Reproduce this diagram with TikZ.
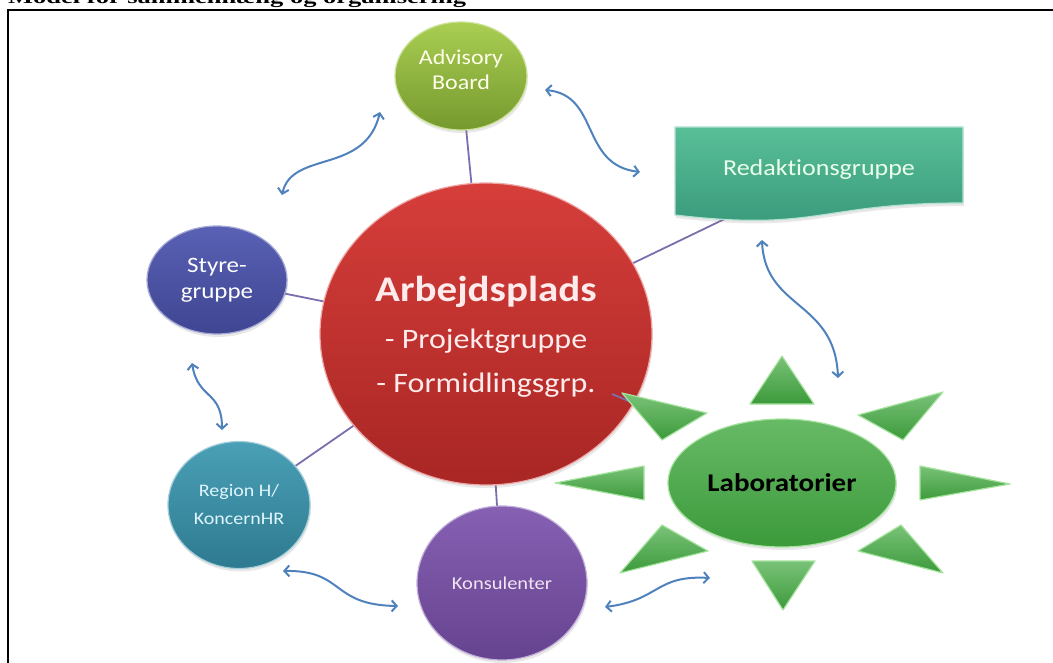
\documentclass[tikz,border=0pt]{standalone}
\usepackage{fontspec}
\setmainfont{Carlito}[Ligatures=NoCommon]
\newfontfamily\titlefont{Liberation Serif}
\usepackage{graphicx}
\usetikzlibrary{shapes.geometric,shadows,arrows.meta}

\definecolor{linkc}{HTML}{7E6DAE}
\definecolor{arrowc}{HTML}{4F81BD}
\definecolor{advtop}{HTML}{A9CE52}
\definecolor{advbot}{HTML}{76992E}
\definecolor{arbtop}{HTML}{D63E3A}
\definecolor{arbbot}{HTML}{A82624}
\definecolor{stytop}{HTML}{5961B5}
\definecolor{stybot}{HTML}{3F4591}
\definecolor{regtop}{HTML}{4AA0B6}
\definecolor{regbot}{HTML}{2E7A90}
\definecolor{kontop}{HTML}{8660B3}
\definecolor{konbot}{HTML}{66438F}
\definecolor{redtop}{HTML}{58BF98}
\definecolor{redbot}{HTML}{38977A}
\definecolor{labgreen}{HTML}{4DAE4B}
\definecolor{labdark}{HTML}{3C9A3B}
\definecolor{labrim}{HTML}{A6E39E}

% squeeze text slightly in height
\newcommand\sq[1]{\scalebox{1}[0.88]{#1}}
% centred block of lines; extra height #1 pushes the block down by half of it
\newcommand\lines[2]{\raisebox{0pt}[\dimexpr\height+#1\relax][\depth]{\begin{tabular}{@{}c@{}}#2\end{tabular}}}

\begin{document}
\begin{tikzpicture}[x=1pt,y=-1pt,
  bubble/.style={ellipse, inner sep=0pt, align=center, line width=1.2pt,
    drop shadow={opacity=0.18, shadow xshift=1pt, shadow yshift=-3pt}},
  link/.style={draw=linkc, line width=1.8pt},
  swap/.style={draw=arrowc, line width=2pt,
    {Straight Barb[length=5pt,width=11pt]}-{Straight Barb[length=5pt,width=11pt]}},
  spike/.style={top color=labgreen!75!white, bottom color=labdark, draw=labrim,
    line width=1.2pt, line join=round},
]
\useasboundingbox (0,0) rectangle (1053,663);

% caption and frame
\node[anchor=base west, inner sep=0pt] (title) at (8,4)
  {\scalebox{1}[0.7]{\titlefont\bfseries\fontsize{26.5}{30}\selectfont Model for sammenhæng og organisering}};
\draw[line width=2pt] (7.7,663) -- (7.7,10) -- (1053,10);

% positions of the nodes (centres)
\coordinate (cArb) at (486,334);
\coordinate (cAdv) at (461,76);
\coordinate (cSty) at (217,280);
\coordinate (cReg) at (239,505);
\coordinate (cKon) at (502,583);
\coordinate (cRed) at (819,170);
\coordinate (cLab) at (782,483);
\coordinate (redFoot) at (735,214);
\coordinate (arbTip) at (612,394);
\coordinate (labTip) at (650,410);

% spokes from the centre, drawn beneath the bubbles
\draw[link] (cArb) -- (cAdv);
\draw[link] (cArb) -- (cSty);
\draw[link] (cArb) -- (cReg);
\draw[link] (cArb) -- (cKon);
\draw[link] (cArb) -- (redFoot);

% bubbles
\node[bubble, minimum width=132pt, minimum height=108pt, top color=advtop, bottom color=advbot,
  draw=advtop!60!white, text=yellow!8!white, font=\fontsize{24}{25}\selectfont] (adv) at (cAdv)
  {\lines{-7pt}{\sq{Advisory}\\\sq{Board}}};

\node[bubble, minimum width=140pt, minimum height=108pt, top color=stytop, bottom color=stybot,
  draw=stytop!55!white, text=white, font=\fontsize{25}{26}\selectfont] (sty) at (cSty)
  {\lines{0pt}{\sq{Styre-}\\\sq{gruppe}}};

\node[bubble, minimum width=142pt, minimum height=127pt, top color=regtop, bottom color=regbot,
  draw=regtop!50!white, text=white!88!cyan, font=\fontsize{20}{28}\selectfont] (reg) at (cReg)
  {\lines{0pt}{\sq{Region H/}\\\sq{KoncernHR}}};

\node[bubble, minimum width=170pt, minimum height=154pt, top color=kontop, bottom color=konbot,
  draw=kontop!50!white, text=white!90!violet, font=\fontsize{20.5}{24}\selectfont] (kon) at (cKon)
  {\sq{Konsulenter}};

\node[bubble, minimum width=332pt, minimum height=302pt, top color=arbtop, bottom color=arbbot,
  draw=arbtop!45!white, text=white!92!red, font=\fontsize{32}{44}\selectfont] (arb) at (cArb)
  {\lines{8pt}{\sq{\fontsize{41}{44}\selectfont\bfseries Arbejdsplads}\\[3pt]
   \sq{- Projektgruppe}\\
   \sq{- Formidlingsgrp.}}};

% spoke towards the laboratories, running over the centre bubble
\draw[link] (arbTip) -- (labTip);

% editorial group: document-shaped box
\path[top color=redtop, bottom color=redbot, draw=redtop!45!white, line width=1.2pt,
  drop shadow={opacity=0.18, shadow xshift=1pt, shadow yshift=-3pt}]
  (675,127) -- (963,127) -- (963,203)
  .. controls (819,203) and (819,232) .. (675,215) -- cycle;
\node[inner sep=0pt, minimum width=288pt, minimum height=80pt, text=white!92!green,
  font=\fontsize{26}{28}\selectfont] (red) at (cRed)
  {\sq{Redaktionsgruppe}};

% laboratories: sun with eight rays
\path[spike] (782,356) -- (814,404) -- (750,404) -- cycle;
\path[spike] (783,610) -- (752,561) -- (815,561) -- cycle;
\path[spike] (555,483) -- (644,466) -- (644,500) -- cycle;
\path[spike] (1010,484) -- (920,466) -- (920,500) -- cycle;
\path[spike] (622,393) -- (707,413) -- (662,440) -- cycle;
\path[spike] (943,392) -- (858,415) -- (903,440) -- cycle;
\path[spike] (620,573) -- (662,525) -- (708,551) -- cycle;
\path[spike] (943,573) -- (901,525) -- (858,551) -- cycle;
\node[bubble, minimum width=228pt, minimum height=128pt, top color=labgreen!85!white,
  bottom color=labdark, draw=labrim, text=black, font=\fontsize{29}{30}\selectfont\bfseries] (lab) at (cLab)
  {\sq{Laboratorier}};

% two-way exchanges between neighbouring bodies
\coordinate (a1s) at (282,195);  \coordinate (a1e) at (380,112);
\coordinate (a2s) at (545,90);   \coordinate (a2e) at (640,172);
\coordinate (a3s) at (762,240);  \coordinate (a3e) at (838,378);
\coordinate (a4s) at (192,363);  \coordinate (a4e) at (222,430);
\coordinate (a5s) at (283,571);  \coordinate (a5e) at (398,606);
\coordinate (a6s) at (605,607);  \coordinate (a6e) at (710,578);

\draw[swap] (a1s) .. controls (292,150) and (365,175) .. (a1e);
\draw[swap] (a2s) .. controls (600,95) and (580,165) .. (a2e);
\draw[swap] (a3s) .. controls (765,310) and (835,300) .. (a3e);
\draw[swap] (a4s) .. controls (198,400) and (222,390) .. (a4e);
\draw[swap] (a5s) .. controls (345,570) and (330,605) .. (a5e);
\draw[swap] (a6s) .. controls (660,600) and (655,575) .. (a6e);
\end{tikzpicture}
\end{document}
